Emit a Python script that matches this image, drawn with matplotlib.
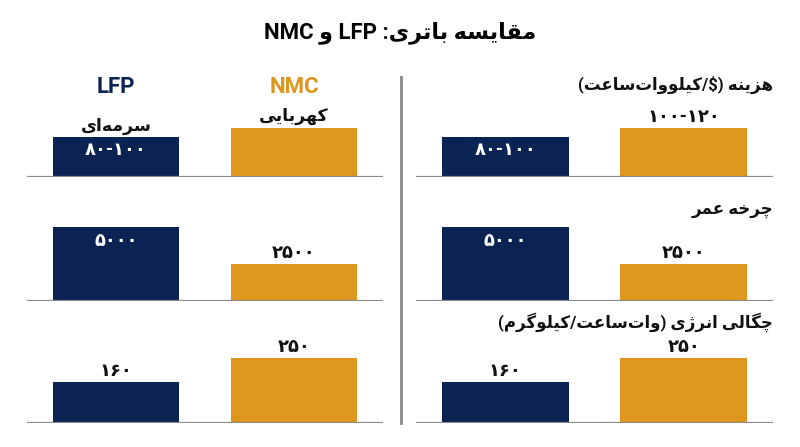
import re
import matplotlib
matplotlib.use('Agg')
import matplotlib.pyplot as plt

plt.rcParams['font.family'] = ['Roboto', 'DejaVu Sans']
plt.rcParams['font.weight'] = 'bold'

# data
title = 'مقایسه باتری: LFP و NMC'
series = ['LFP', 'NMC']
colour_names = ['سرمه‌ای', 'کهربایی']
categories = ['هزینه ($/کیلووات‌ساعت)', 'چرخه عمر', 'چگالی انرژی (وات‌ساعت/کیلوگرم)']
lfp_values = [90, 5000, 160]
nmc_values = [110, 2500, 250]
lfp_labels = ['۸۰-۱۰۰', '۵۰۰۰', '۱۶۰']
nmc_labels = ['۱۰۰-۱۲۰', '۲۵۰۰', '۲۵۰']

NAVY = '#0b2352'
AMBER = '#de961d'
GREY = '#8a8a8a'

# simple persian shaping + right-to-left ordering (no bidi lib available)
FORMS = {
    '\u0627': ('\uFE8D', '\uFE8E', None, None),
    '\u0628': ('\uFE8F', '\uFE90', '\uFE91', '\uFE92'),
    '\u062A': ('\uFE95', '\uFE96', '\uFE97', '\uFE98'),
    '\u062E': ('\uFEA5', '\uFEA6', '\uFEA7', '\uFEA8'),
    '\u0631': ('\uFEAD', '\uFEAE', None, None),
    '\u0632': ('\uFEAF', '\uFEB0', None, None),
    '\u0698': ('\uFB8A', '\uFB8B', None, None),
    '\u0633': ('\uFEB1', '\uFEB2', '\uFEB3', '\uFEB4'),
    '\u0639': ('\uFEC9', '\uFECA', '\uFECB', '\uFECC'),
    '\u0642': ('\uFED5', '\uFED6', '\uFED7', '\uFED8'),
    '\u0644': ('\uFEDD', '\uFEDE', '\uFEDF', '\uFEE0'),
    '\u0645': ('\uFEE1', '\uFEE2', '\uFEE3', '\uFEE4'),
    '\u0646': ('\uFEE5', '\uFEE6', '\uFEE7', '\uFEE8'),
    '\u0647': ('\uFEE9', '\uFEEA', '\uFEEB', '\uFEEC'),
    '\u0648': ('\uFEED', '\uFEEE', None, None),
    '\u06CC': ('\uFBFC', '\uFBFD', '\uFBFE', '\uFBFF'),
    '\u06A9': ('\uFB8E', '\uFB8F', '\uFB90', '\uFB91'),
    '\u06AF': ('\uFB92', '\uFB93', '\uFB94', '\uFB95'),
    '\u0686': ('\uFB7A', '\uFB7B', '\uFB7C', '\uFB7D'),
}
MIRROR = {'(': ')', ')': '('}


def shape(s):
    out = []
    for i, c in enumerate(s):
        f = FORMS.get(c)
        if f is None:
            out.append(c)
            continue
        prev = s[i - 1] if i > 0 else ''
        nxt = s[i + 1] if i + 1 < len(s) else ''
        p = prev in FORMS and FORMS[prev][2] is not None
        n = f[2] is not None and nxt in FORMS
        out.append(f[3] if p and n else f[1] if p else f[2] if n else f[0])
    return ''.join(out).replace('\u200c', '')


def fa(s):
    r = shape(s)[::-1]
    r = ''.join(MIRROR.get(c, c) for c in r)
    return re.sub(r'[A-Za-z0-9\u06F0-\u06F9]+(?:[-.,][A-Za-z0-9\u06F0-\u06F9]+)*',
                  lambda m: m.group(0)[::-1], r)


W, H = 800, 447
fig = plt.figure(figsize=(8, 4.47), dpi=100)


def fx(x):
    return x / W


def fy(y):
    return 1 - y / H


fig.text(fx(400), fy(33), fa(title), ha='center', va='center', fontsize=16)

baselines = [177, 300.5, 423]
ymax = [213, 6500, 368]
row_h = 95
panels = [(27, 356), (416, 357)]
lfp_inside = [True, True, False]

# divider
fig.add_artist(plt.Line2D([fx(400.5), fx(400.5)], [fy(77), fy(423)], color=GREY, lw=2))

for p, (x0, w) in enumerate(panels):
    for r in range(3):
        ax = fig.add_axes([fx(x0), fy(baselines[r]), fx(w), row_h / H])
        ax.set_xlim(-0.5, 1.5)
        ax.set_ylim(0, ymax[r])
        ax.axis('off')
        ax.bar([0, 1], [lfp_values[r], nmc_values[r]], width=0.71,
               color=[NAVY, AMBER], zorder=2)
        ax.axhline(0, color=GREY, lw=1.6, zorder=3)
        # navy bar label
        if lfp_inside[r]:
            ax.annotate(lfp_labels[r], (0, lfp_values[r]), xytext=(0, -9.5),
                        textcoords='offset points', ha='center', va='center',
                        color='white', fontsize=13)
        else:
            ax.annotate(lfp_labels[r], (0, lfp_values[r]), xytext=(0, 8),
                        textcoords='offset points', ha='center', va='center',
                        color='#111111', fontsize=13)
        if p == 0 and r == 0:
            # legend-style panel: colour names above bars
            ax.annotate(fa(colour_names[0]), (0, lfp_values[r]), xytext=(0, 7.5),
                        textcoords='offset points', ha='center', va='center',
                        color='#111111', fontsize=12.5)
            ax.annotate(fa(colour_names[1]), (1, nmc_values[r]), xytext=(0, 8),
                        textcoords='offset points', ha='center', va='center',
                        color='#111111', fontsize=12.5)
        else:
            ax.annotate(nmc_labels[r], (1, nmc_values[r]), xytext=(0, 8),
                        textcoords='offset points', ha='center', va='center',
                        color='#111111', fontsize=13)

# series headers on the left panel
fig.text(fx(115.5), fy(87), series[0], ha='center', va='center', fontsize=16, color=NAVY)
fig.text(fx(294), fy(87), series[1], ha='center', va='center', fontsize=16, color=AMBER)

# category titles on the right panel
title_y = [85, 210, 322]
for r, cat in enumerate(categories):
    fig.text(fx(773), fy(title_y[r]), fa(cat), ha='right', va='center',
             fontsize=12, color='#111111')

fig.savefig('out.png', dpi=100, facecolor='white')
